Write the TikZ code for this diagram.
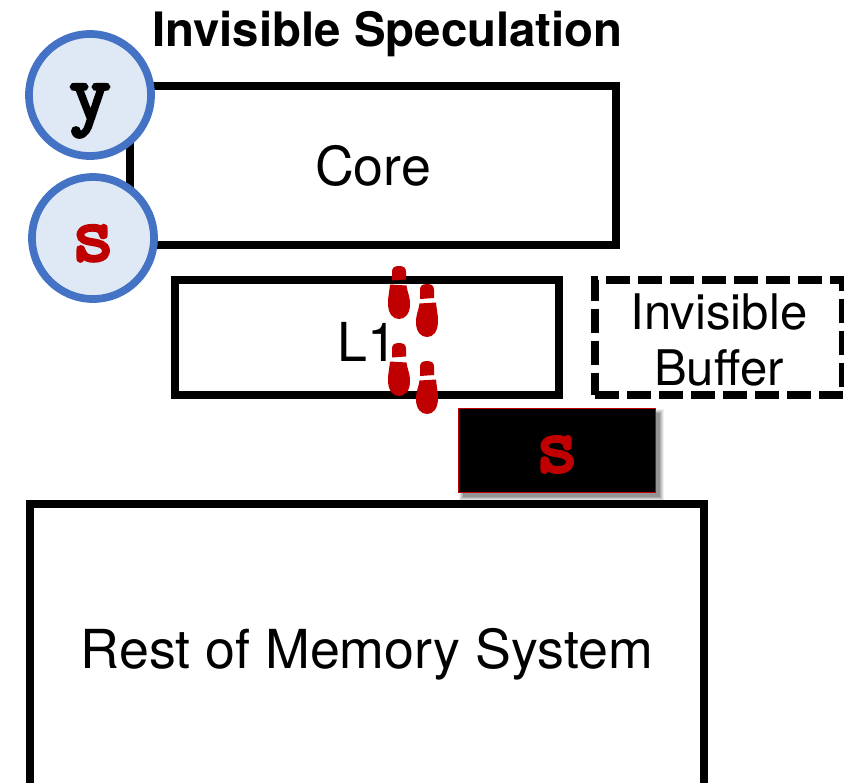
\documentclass[tikz,border=0pt]{standalone}
\usepackage{fontspec}
\setmainfont{TeX Gyre Heros}
\newfontfamily\monob[FakeBold=4]{Latin Modern Mono}
\definecolor{ringblue}{HTML}{4472C4}
\definecolor{ringfill}{HTML}{DEE9F5}
\definecolor{stepred}{HTML}{C00000}
\newcommand{\fs}[1]{\fontsize{#1}{#1}\selectfont}
\newcommand{\drop}[2]{\raisebox{-#1}[0pt][0pt]{#2}}
\tikzset{
  x=0.75pt,y=-0.75pt,
  plainbox/.style={draw=black,line width=6pt,fill=none,inner sep=0pt,align=center,font=\fs{40.3}},
  dashbox/.style={plainbox,dash pattern=on 18pt off 6pt},
  reg/.style={circle,draw=ringblue,fill=ringfill,line width=5.8pt,minimum size=91.5pt,inner sep=0pt,font=\fs{60}\monob},
  lbl/.style={inner sep=0pt,align=center},
  pics/foot/.style={code={
    \fill[stepred] (-7,3) .. controls (-7,-1) and (-5,-3) .. (0,-3) .. controls (5,-3) and (7,-1) .. (7,3) -- (7,10.5) -- (-7,11.5) -- cycle;
    \fill[stepred] (-9,15.5) -- (7.5,16.5) .. controls (8,22) and (11,27) .. (11,35) .. controls (11,45) and (6,50) .. (0,50) .. controls (-6,50) and (-11,45) .. (-11,34) .. controls (-11,27) and (-9.5,22) .. (-9,15.5) -- cycle;
  }},
  pics/footr/.style={code={
    \fill[stepred] (-7,3) .. controls (-7,-1) and (-5,-3) .. (0,-3) .. controls (5,-3) and (7,-1) .. (7,3) -- (7,11) -- (-7,12) -- cycle;
    \fill[stepred] (-7.5,16.5) -- (9,15.5) .. controls (9.5,22) and (11,27) .. (11,34) .. controls (11,45) and (6,50) .. (0,50) .. controls (-6,50) and (-11,45) .. (-11,35) .. controls (-11,27) and (-8,22) .. (-7.5,16.5) -- cycle;
  }}
}
\begin{document}
\begin{tikzpicture}
\useasboundingbox (0,0) rectangle (844,783);
\clip (0,0) rectangle (844,783);
\node[plainbox,minimum width=364.5pt,minimum height=119.25pt] (core) at (373,165.5) {\drop{15pt}{Core}};
\node[plainbox,minimum width=288pt,minimum height=86.25pt] (l1) at (367,337.5) {};
\node[lbl,font=\fs{40.3}] (l1t) at (367,342) {L1};
\node[dashbox,minimum width=186pt,minimum height=86.25pt] (buf) at (719,337.5) {};
\node[lbl,font=\fs{36.8}] (buf1) at (719,312) {Invisible};
\node[lbl,font=\fs{36.8}] (buf2) at (719,367.5) {Buffer};
\foreach \k/\o in {4/0.06,3/0.08,2/0.1,1/0.12,0/0.15}
  \fill[black,opacity=\o] (463-\k,413-\k) rectangle (660+\k,497+\k);
\node[draw=stepred,fill=black,line width=1.2pt,minimum width=147.5pt,minimum height=63pt,inner sep=0pt,text=stepred,font=\fs{60}\monob] (reg) at (557,450.5) {\drop{16pt}{s}};
\node[plainbox,minimum width=505.5pt,minimum height=219pt] (mem) at (367,650) {\drop{13.5pt}{Rest of Memory System}};
\node[reg] (y) at (90,95) {\drop{18pt}{y}};
\node[reg,text=stepred] (s) at (93,238) {\drop{17pt}{s}};
\node[lbl,font=\fs{35.55}\bfseries] (title) at (387.5,34.5) {Invisible Speculation};
\pic at (399,269) {foot};
\pic at (427,287) {footr};
\pic at (399,346) {foot};
\pic at (427,364) {footr};
\end{tikzpicture}
\end{document}
